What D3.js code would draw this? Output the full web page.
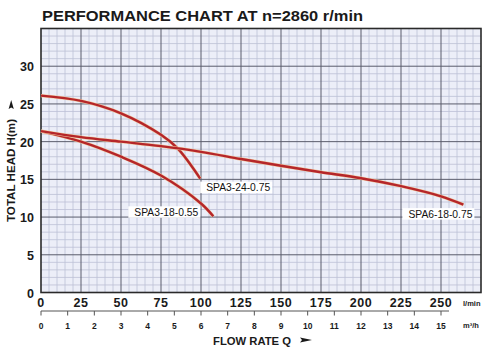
<!DOCTYPE html>
<html>
<head>
<meta charset="utf-8">
<script src="https://cdn.jsdelivr.net/npm/d3@7/dist/d3.min.js"></script>
<style>
  html, body { margin: 0; padding: 0; background: #ffffff; }
  svg { display: block; font-family: "Liberation Sans", Arial, sans-serif; }
</style>
</head>
<body>
<svg id="chart" width="490" height="350"></svg>
<script>
// ---------- data ----------
const titleText = "PERFORMANCE CHART AT n=2860 r/min";
const yTitle = "TOTAL HEAD H(m)";
const xTitle = "FLOW RATE Q";
const flowTicksLmin = [0, 25, 50, 75, 100, 125, 150, 175, 200, 225, 250];
const headTicks = [0, 5, 10, 15, 20, 25, 30];
const flowTicksM3h = [0, 1, 2, 3, 4, 5, 6, 7, 8, 9, 10, 11, 12, 13, 14, 15];
const unitLmin = "l/min";
const unitM3h = "m³/h";

const seriesNames = ["SPA3-24-0.75", "SPA3-18-0.55", "SPA6-18-0.75"];
const flowSPA3_24 = [0, 25, 50, 75, 85.4, 99.5];
const headSPA3_24 = [26.1, 25.4, 23.75, 20.9, 19.1, 15.1];
const flowSPA3_18 = [0, 25, 50, 75, 100, 107.7];
const headSPA3_18 = [21.4, 20.0, 18.0, 15.5, 11.8, 10.1];
const flowSPA6_18 = [0, 25, 50, 75, 100, 125, 150, 175, 200, 225, 250, 264];
const headSPA6_18 = [21.4, 20.6, 20.0, 19.4, 18.65, 17.7, 16.8, 15.95, 15.15, 14.1, 12.75, 11.65];

// ---------- layout ----------
const svg = d3.select("#chart");
const L = 41, R = 481, T = 28.5, B = 292.5;
const x = d3.scaleLinear().domain([0, 275]).range([L, R]);
const y = d3.scaleLinear().domain([0, 35]).range([B, T]);
const xm = d3.scaleLinear().domain([0, 16.5]).range([L, L + 16.5 * 400 / 15]);

// plot background
svg.append("rect").attr("x", L).attr("y", T).attr("width", R - L).attr("height", B - T)
  .attr("fill", "#eceef8");

// minor grid
const g = svg.append("g");
g.selectAll(".vx").data(d3.range(0, 276, 5).filter(v => v % 25 !== 0)).join("line")
  .attr("x1", d => x(d)).attr("x2", d => x(d)).attr("y1", T).attr("y2", B)
  .attr("stroke", "#bcc0d6").attr("stroke-width", 0.8);
g.selectAll(".hy").data(d3.range(0, 36, 1).filter(v => v % 5 !== 0)).join("line")
  .attr("x1", L).attr("x2", R).attr("y1", d => y(d)).attr("y2", d => y(d))
  .attr("stroke", "#bcc0d6").attr("stroke-width", 0.8);
// major grid
g.selectAll(".vX").data(flowTicksLmin.filter(v => v > 0)).join("line")
  .attr("x1", d => x(d)).attr("x2", d => x(d)).attr("y1", T).attr("y2", B)
  .attr("stroke", "#5a5c6c").attr("stroke-width", 1);
g.selectAll(".hY").data(headTicks.filter(v => v > 0)).join("line")
  .attr("x1", L).attr("x2", R).attr("y1", d => y(d)).attr("y2", d => y(d))
  .attr("stroke", "#5a5c6c").attr("stroke-width", 1);

// border
svg.append("rect").attr("x", L).attr("y", T).attr("width", R - L).attr("height", B - T)
  .attr("fill", "none").attr("stroke", "#2a2a2a").attr("stroke-width", 1.6);

// curves
const series = [
  { name: seriesNames[0], q: flowSPA3_24, h: headSPA3_24 },
  { name: seriesNames[1], q: flowSPA3_18, h: headSPA3_18 },
  { name: seriesNames[2], q: flowSPA6_18, h: headSPA6_18 }
];
const line = d3.line().x(d => x(d[0])).y(d => y(d[1])).curve(d3.curveCatmullRom.alpha(0.5));
series.forEach(s => {
  const pts = s.q.map((q, i) => [q, s.h[i]]);
  svg.append("path").attr("d", line(pts)).attr("fill", "none")
    .attr("stroke", "#f2c9a0").attr("stroke-width", 3.4).attr("stroke-linecap", "butt");
  svg.append("path").attr("d", line(pts)).attr("fill", "none")
    .attr("stroke", "#b5262a").attr("stroke-width", 2.4).attr("stroke-linecap", "butt");
});

// series labels (offsets from curve end, pixels)
const labelOffsets = [[0, 3], [-85, -10], [-61, 3.5]];
series.forEach((s, i) => {
  const n = s.q.length - 1;
  const ex = x(s.q[n]) + labelOffsets[i][0], ey = y(s.h[n]) + labelOffsets[i][1];
  svg.append("rect").attr("x", ex).attr("y", ey).attr("width", 72).attr("height", 11.5)
    .attr("fill", "#ffffff");
  svg.append("text").attr("x", ex + 6).attr("y", ey + 9.8)
    .attr("font-size", 10.2).attr("textLength", 64).attr("lengthAdjust", "spacingAndGlyphs")
    .attr("fill", "#111").text(s.name);
});

// title
svg.append("text").attr("x", 42).attr("y", 20.5).attr("font-size", 14.5).attr("font-weight", "bold")
  .attr("textLength", 321).attr("lengthAdjust", "spacingAndGlyphs")
  .attr("fill", "#1a1a1a").text(titleText);

// y tick labels
svg.selectAll(".yl").data(headTicks).join("text")
  .attr("x", 34).attr("y", d => y(d) + 5).attr("text-anchor", "end")
  .attr("font-size", 12.5).attr("font-weight", "bold").attr("fill", "#1a1a1a")
  .text(d => d);

// x tick labels (l/min)
svg.selectAll(".xl").data(flowTicksLmin).join("text")
  .attr("x", d => x(d)).attr("y", 307).attr("text-anchor", "middle")
  .attr("font-size", 12.5).attr("font-weight", "bold").attr("fill", "#1a1a1a")
  .attr("letter-spacing", 0.6)
  .text(d => d);
svg.append("text").attr("x", 463).attr("y", 306).attr("font-size", 7.5).attr("font-weight", "bold")
  .attr("fill", "#1a1a1a").text(unitLmin);

// secondary axis m3/h
svg.append("line").attr("x1", L).attr("x2", xm(15.3)).attr("y1", 311).attr("y2", 311)
  .attr("stroke", "#555").attr("stroke-width", 1);
svg.selectAll(".mt").data(flowTicksM3h).join("line")
  .attr("x1", d => xm(d)).attr("x2", d => xm(d)).attr("y1", 311).attr("y2", 315.5)
  .attr("stroke", "#555").attr("stroke-width", 1);
svg.selectAll(".ml").data(flowTicksM3h).join("text")
  .attr("x", d => xm(d)).attr("y", 328.5).attr("text-anchor", "middle")
  .attr("font-size", 8.5).attr("font-weight", "bold").attr("fill", "#1a1a1a")
  .text(d => d);
svg.append("text").attr("x", 463).attr("y", 328).attr("font-size", 7.5).attr("font-weight", "bold")
  .attr("fill", "#1a1a1a").text(unitM3h);

// x title with arrow
svg.append("text").attr("x", 213).attr("y", 344.5).attr("font-size", 10).attr("font-weight", "bold")
  .attr("textLength", 78).attr("lengthAdjust", "spacingAndGlyphs")
  .attr("fill", "#1a1a1a").text(xTitle);
svg.append("path").attr("d", "M300,337.5 L312,340 L300,342.5 L302,340 Z").attr("fill", "#1a1a1a");

// y title with arrow
svg.append("text").attr("transform", "translate(15,222) rotate(-90)")
  .attr("font-size", 11.5).attr("font-weight", "bold")
  .attr("textLength", 103).attr("lengthAdjust", "spacingAndGlyphs")
  .attr("fill", "#1a1a1a").text(yTitle);
svg.append("path").attr("d", "M11.2,100 L13.8,109 L11.2,107.5 L8.6,109 Z").attr("fill", "#1a1a1a");
</script>
</body>
</html>
